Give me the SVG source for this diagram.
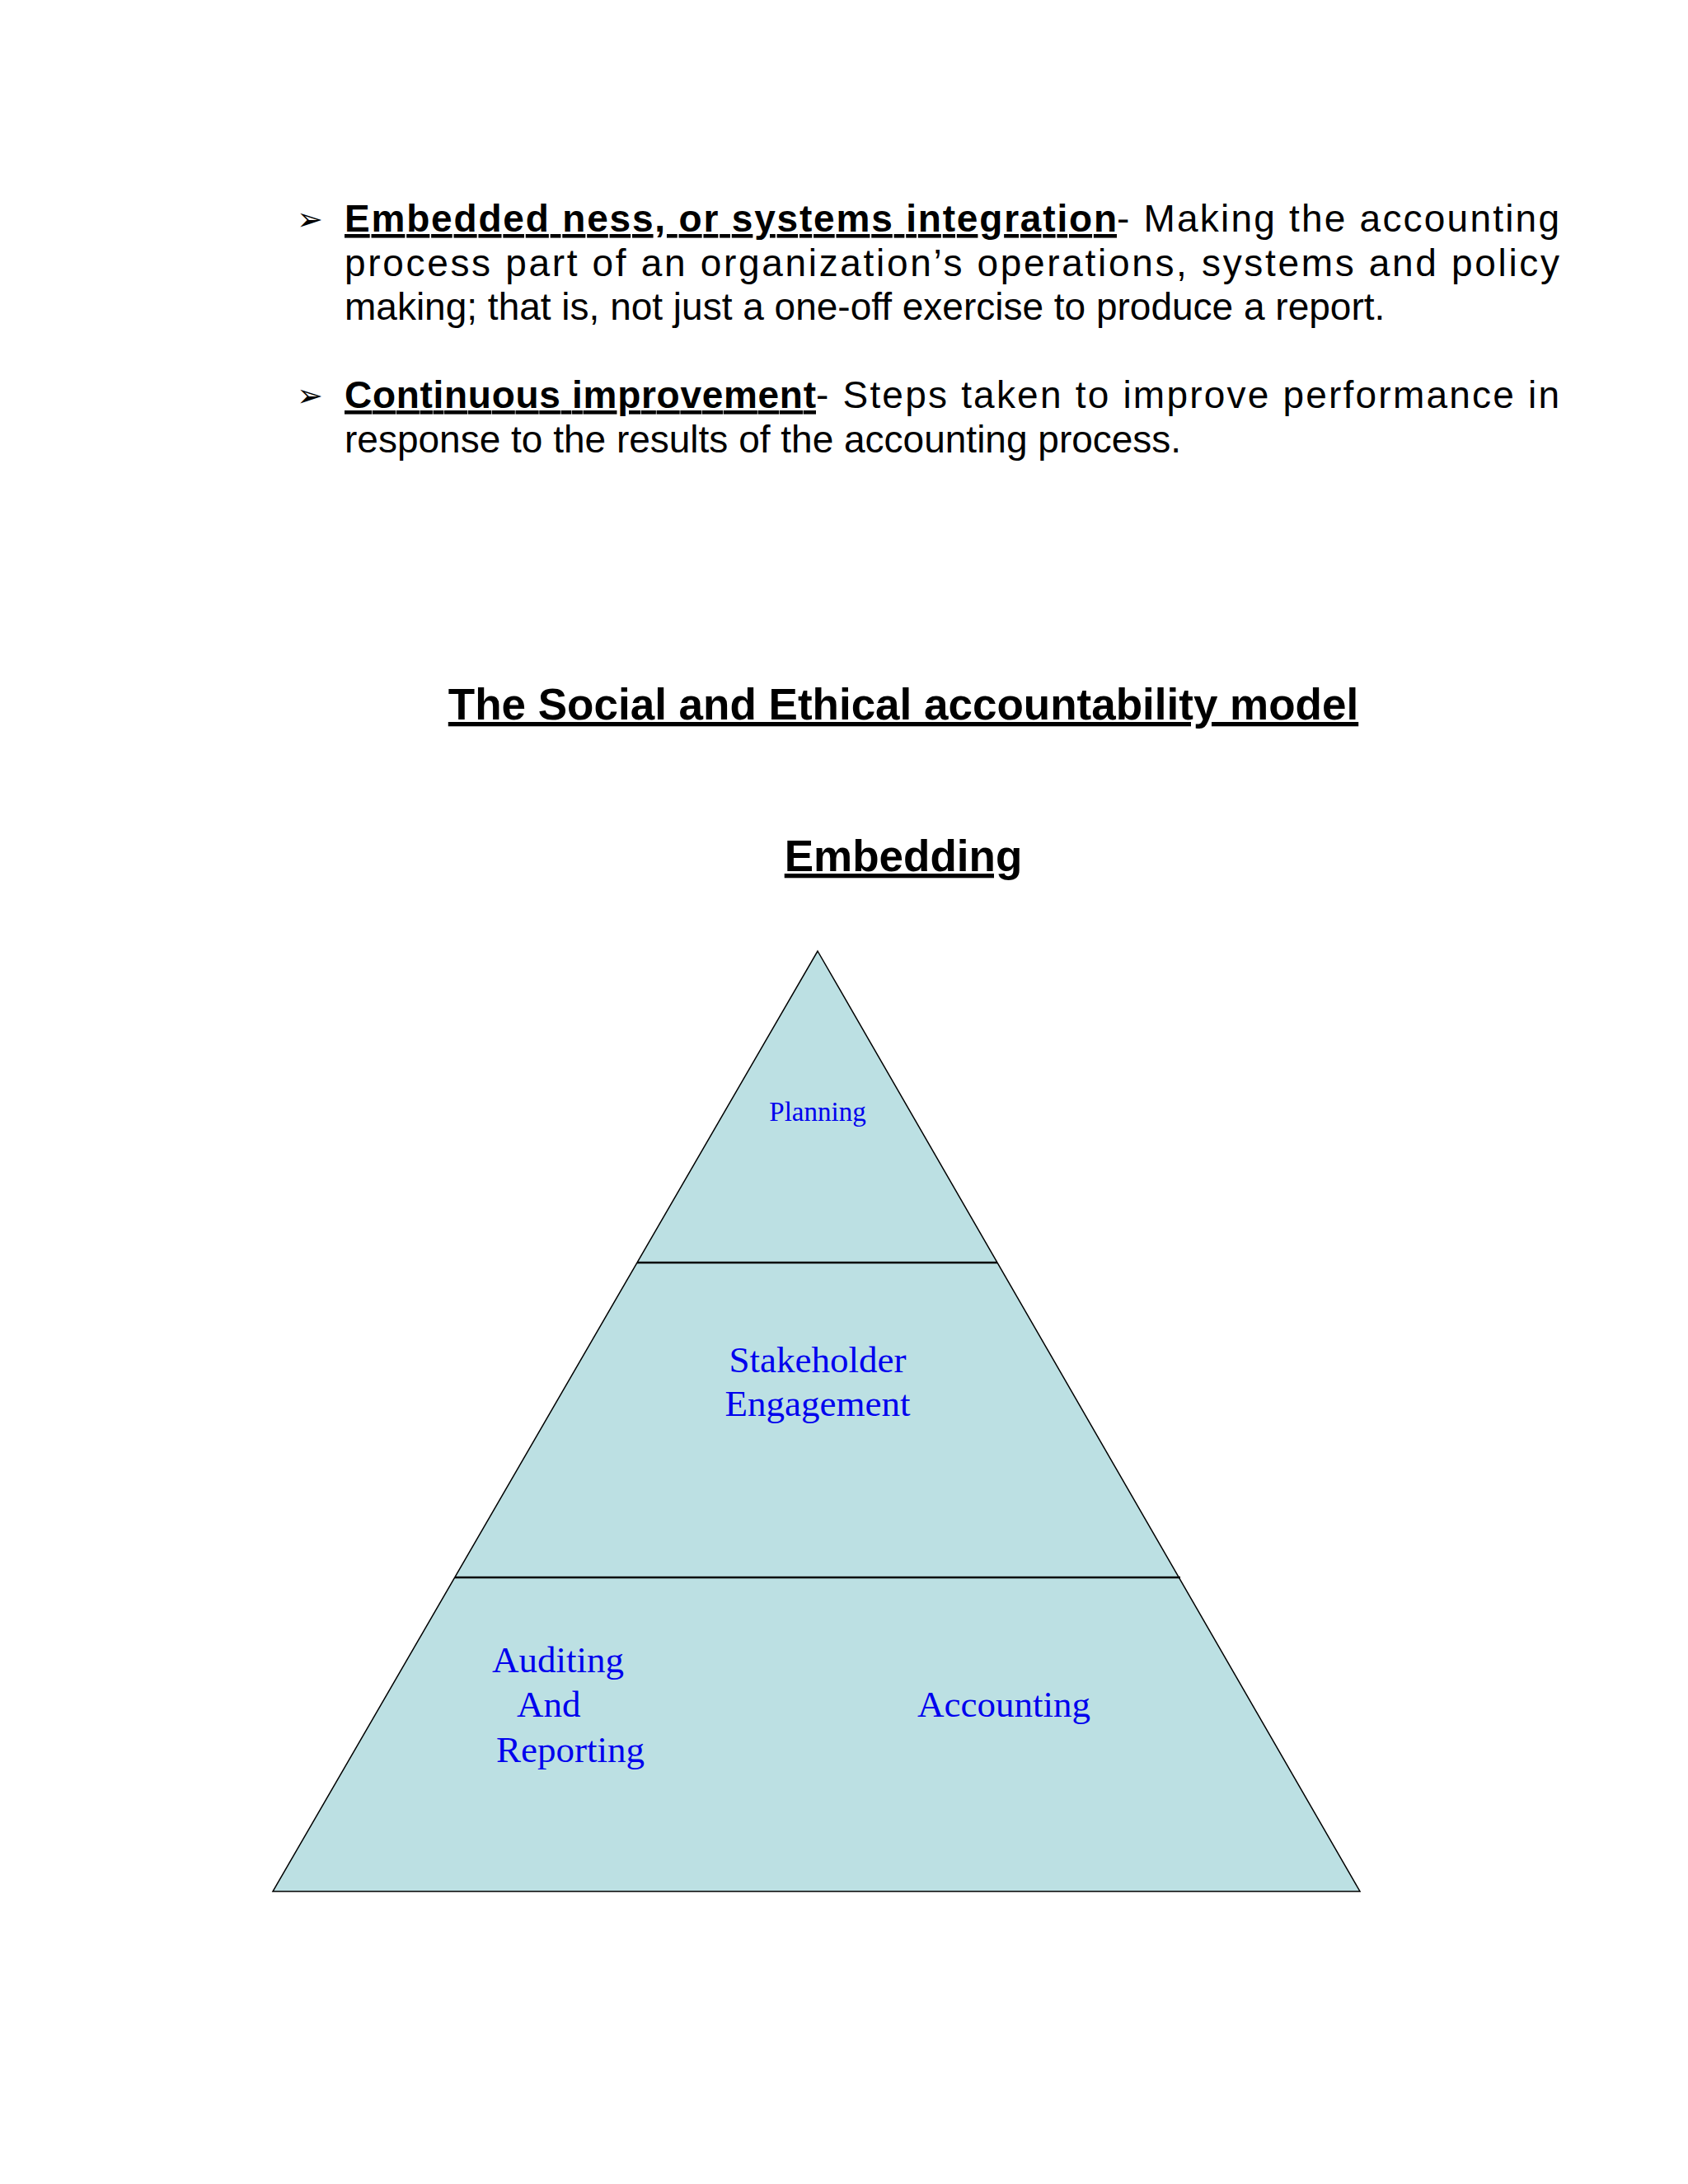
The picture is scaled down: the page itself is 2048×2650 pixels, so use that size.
<svg xmlns="http://www.w3.org/2000/svg" width="2048" height="2650" viewBox="0 0 2048 2650">
<style>
.b{font-family:"Liberation Sans",Arial,sans-serif;font-size:46px;fill:#000}
.bd{font-weight:bold;text-decoration:underline}
.ar{font-family:"DejaVu Sans",sans-serif;font-size:38px;fill:#000}
.h{font-family:"Liberation Sans",Arial,sans-serif;font-size:53px;font-weight:bold;text-decoration:underline;text-anchor:middle}
.p{font-family:"Liberation Serif","Times New Roman",serif;fill:#0000ee}
</style>
<rect width="2048" height="2650" fill="#fff"/>
<g id="bullets">
<text class="ar" x="360" y="279">➢</text>
<text class="b bd" x="418" y="281" textLength="937" lengthAdjust="spacing">Embedded ness, or systems integration</text>
<text class="b" x="1355" y="281" textLength="537" lengthAdjust="spacing">- Making the accounting</text>
<text class="b" x="418" y="335" textLength="1474" lengthAdjust="spacing">process part of an organization’s operations, systems and policy</text>
<text class="b" x="418" y="388">making; that is, not just a one-off exercise to produce a report.</text>
<text class="ar" x="360" y="493">➢</text>
<text class="b bd" x="418" y="495" textLength="572" lengthAdjust="spacing">Continuous improvement</text>
<text class="b" x="990" y="495" textLength="902" lengthAdjust="spacing">- Steps taken to improve performance in</text>
<text class="b" x="418" y="549">response to the results of the accounting process.</text>
</g>
<g id="titles">
<text class="h" x="1096" y="873">The Social and Ethical accountability model</text>
<text class="h" x="1096" y="1057">Embedding</text>
</g>
<g id="pyramid">
<polygon points="992,1154 1650,2295 331,2295" fill="#bce0e3" stroke="#000" stroke-width="1.5"/>
</g>
<g id="connectors">
<line x1="773" y1="1532" x2="1210" y2="1532" stroke="#000" stroke-width="2.5"/>
<line x1="552" y1="1914" x2="1432" y2="1914" stroke="#000" stroke-width="2.5"/>
</g>
<g id="planning"><text class="p" x="992" y="1360" font-size="33" text-anchor="middle">Planning</text></g>
<g id="stakeholder">
<text class="p" x="992" y="1665" font-size="45" text-anchor="middle">Stakeholder</text>
<text class="p" x="992" y="1718" font-size="45" text-anchor="middle">Engagement</text>
</g>
<g id="auditing">
<text class="p" x="597" y="2029" font-size="45">Auditing</text>
<text class="p" x="627" y="2083" font-size="45">And</text>
<text class="p" x="602" y="2138" font-size="45">Reporting</text>
</g>
<g id="accounting"><text class="p" x="1113" y="2083" font-size="45">Accounting</text></g>
</svg>
